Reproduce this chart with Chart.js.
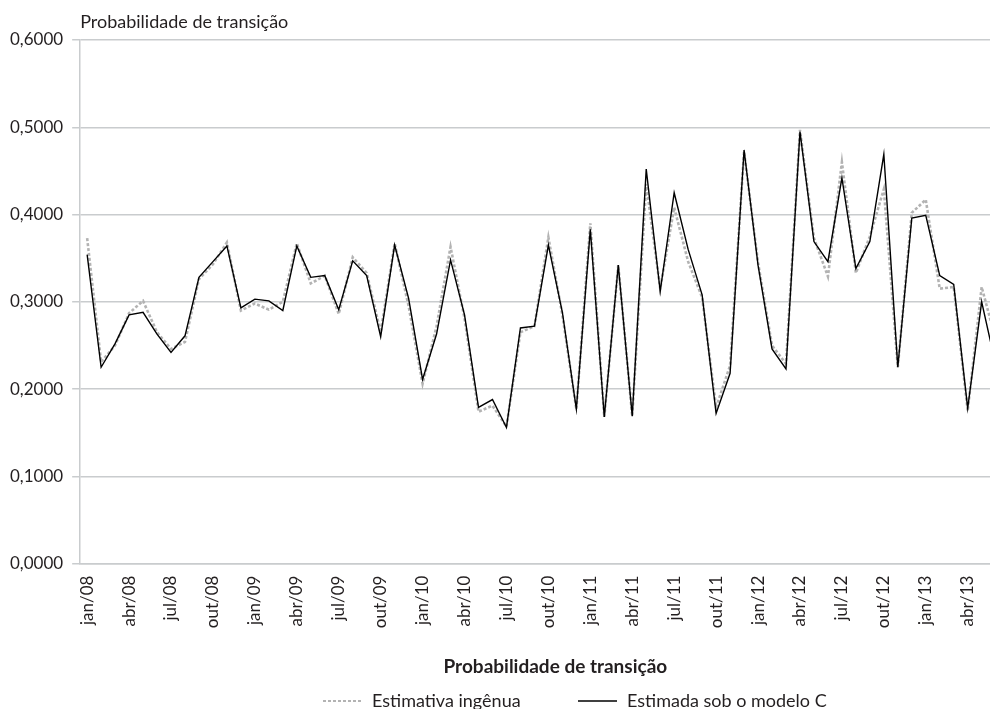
<!DOCTYPE html>
<html lang="pt">
<head>
<meta charset="utf-8">
<title>Probabilidade de transição</title>
<script src="https://cdn.jsdelivr.net/npm/chart.js@4.4.1/dist/chart.umd.min.js"></script>
<style>
  html, body { margin: 0; padding: 0; background: #fff; overflow: hidden; }
  /* a figura original está cortada à direita: a moldura recorta o gráfico */
  #moldura { position: relative; width: 990px; height: 709px; overflow: hidden; }
  #wrap { position: absolute; left: 0; top: 0; width: 1056px; height: 709px; }
</style>
</head>
<body>
<div id="moldura"><div id="wrap"><canvas id="grafico"></canvas></div></div>
<script>
// Categorias: meses de jan/08 a ago/13
const meses = ['jan', 'fev', 'mar', 'abr', 'mai', 'jun', 'jul', 'ago', 'set', 'out', 'nov', 'dez'];
const anos = ['08', '09', '10', '11', '12', '13'];
const ultimoMes = 8; // ago/13

// Séries
const estimativaIngenua = [
  0.373, 0.231, 0.250, 0.287, 0.301, 0.265, 0.246, 0.254, 0.326, 0.343, 0.368, 0.290,
  0.298, 0.291, 0.300, 0.367, 0.321, 0.330, 0.286, 0.351, 0.333, 0.265, 0.367, 0.295,
  0.206, 0.272, 0.363, 0.281, 0.174, 0.181, 0.157, 0.265, 0.272, 0.374, 0.285, 0.177,
  0.390, 0.168, 0.342, 0.169, 0.435, 0.315, 0.408, 0.346, 0.305, 0.179, 0.227, 0.472,
  0.345, 0.250, 0.229, 0.497, 0.373, 0.329, 0.460, 0.333, 0.375, 0.429, 0.225, 0.402,
  0.417, 0.315, 0.317, 0.175, 0.317, 0.257
];
const estimadaModeloC = [
  0.354, 0.225, 0.252, 0.285, 0.288, 0.263, 0.242, 0.261, 0.328, 0.346, 0.364, 0.293,
  0.303, 0.301, 0.290, 0.364, 0.328, 0.330, 0.291, 0.347, 0.330, 0.260, 0.365, 0.304,
  0.211, 0.263, 0.348, 0.285, 0.179, 0.188, 0.156, 0.270, 0.272, 0.365, 0.288, 0.177,
  0.383, 0.168, 0.342, 0.169, 0.452, 0.312, 0.425, 0.360, 0.308, 0.172, 0.218, 0.474,
  0.342, 0.246, 0.223, 0.495, 0.369, 0.346, 0.442, 0.338, 0.369, 0.469, 0.225, 0.396,
  0.399, 0.330, 0.320, 0.178, 0.300, 0.228
];
const ticksY = [0, 0.1, 0.2, 0.3, 0.4, 0.5, 0.6];

const tituloEixo = 'Probabilidade de transição';
const nomesSeries = ['Estimativa ingênua', 'Estimada sob o modelo C'];

// Montar os rótulos mensais
const rotulos = [];
anos.forEach(function(ano, a) {
  meses.forEach(function(mes, m) {
    if (a < anos.length - 1 || m < ultimoMes) rotulos.push(mes + '/' + ano);
  });
});

const corTexto = '#231f20';
const corGrade = '#c9ccce';
const corIngenua = '#b3b3b3';
const fonte = 'Lato';

// Título do eixo Y (horizontal, no alto) e legenda desenhados à mão
const extras = {
  id: 'extras',
  afterDraw(chart) {
    const ctx = chart.ctx;
    const area = chart.chartArea;
    ctx.save();
    ctx.font = '18px ' + fonte;
    ctx.fillStyle = corTexto;
    ctx.textBaseline = 'middle';
    ctx.textAlign = 'left';
    ctx.fillText(tituloEixo, area.left, area.top - 18);

    // legenda
    const yLeg = 701;
    ctx.lineWidth = 2;
    ctx.strokeStyle = corIngenua;
    ctx.setLineDash([3, 2]);
    ctx.beginPath();
    ctx.moveTo(323, yLeg);
    ctx.lineTo(361, yLeg);
    ctx.stroke();
    ctx.setLineDash([]);
    ctx.lineWidth = 1.3;
    ctx.strokeStyle = '#000';
    ctx.beginPath();
    ctx.moveTo(578, yLeg);
    ctx.lineTo(617, yLeg);
    ctx.stroke();
    ctx.fillText(nomesSeries[0], 372, yLeg);
    ctx.fillText(nomesSeries[1], 627, yLeg);
    ctx.restore();
  }
};

const ctx = document.getElementById('grafico').getContext('2d');
const grafico = new Chart(ctx, {
  type: 'line',
  data: {
    labels: rotulos,
    datasets: [
      {
        label: nomesSeries[0],
        data: estimativaIngenua,
        borderColor: corIngenua,
        borderWidth: 2.6,
        borderDash: [3, 2],
        pointRadius: 0,
        tension: 0,
        order: 2
      },
      {
        label: nomesSeries[1],
        data: estimadaModeloC,
        borderColor: '#000000',
        borderWidth: 1.4,
        pointRadius: 0,
        tension: 0,
        order: 1
      }
    ]
  },
  options: {
    responsive: true,
    maintainAspectRatio: false,
    animation: false,
    layout: { padding: { top: 40, left: 1, right: 0, bottom: 31 } },
    plugins: {
      legend: { display: false },
      tooltip: { enabled: false }
    },
    scales: {
      x: {
        offset: true,
        grid: { display: false, drawTicks: false },
        border: { display: true, color: corGrade, width: 1.5 },
        ticks: {
          autoSkip: false,
          maxRotation: 90,
          minRotation: 90,
          padding: 12,
          color: corTexto,
          font: { family: fonte, size: 17 },
          callback: function(valor, i) {
            return i % 3 === 0 ? rotulos[i] : '';
          }
        },
        title: {
          display: true,
          text: tituloEixo,
          color: corTexto,
          font: { family: fonte, size: 19, weight: 'bold' },
          padding: { top: 15, bottom: 0 }
        }
      },
      y: {
        min: 0,
        max: 0.6,
        afterBuildTicks: function(eixo) {
          eixo.ticks = ticksY.map(function(v) { return { value: v }; });
        },
        grid: { color: corGrade, lineWidth: 1.5, drawTicks: true, tickLength: 8 },
        border: { display: true, color: corGrade, width: 1.5 },
        ticks: {
          padding: 9,
          color: corTexto,
          font: { family: fonte, size: 17 },
          callback: function(v) {
            return v.toFixed(4).replace('.', ',');
          }
        }
      }
    }
  },
  plugins: [extras]
});
</script>
</body>
</html>
